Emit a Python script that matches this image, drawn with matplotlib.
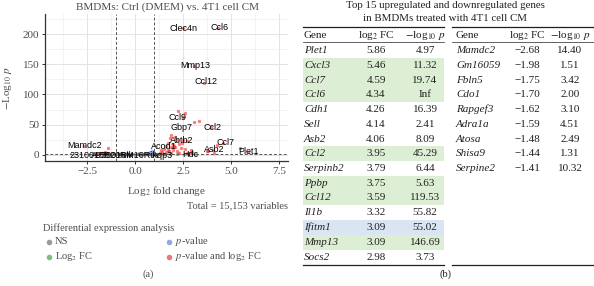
import matplotlib
matplotlib.use("Agg")
import matplotlib.pyplot as plt
from matplotlib.patches import Rectangle
from matplotlib.lines import Line2D

plt.rcParams['mathtext.fontset'] = 'stix'

ns_x = [-0.9, -0.75, -0.6, -0.45, -0.3, -0.15, 0.0, 0.15, 0.3, 0.45, 0.6, 0.75, 0.9,
        -0.8, -0.5, -0.2, 0.1, 0.4, 0.7, -0.65, -0.35, 0.25, 0.55, 0.85]
ns_y = [0.3, 0.5, 0.2, 0.6, 0.1, 0.4, 0.2, 0.5, 0.3, 0.7, 0.4, 0.9, 0.6,
        1.0, 0.8, 1.1, 0.9, 1.0, 1.2, 0.1, 0.3, 0.2, 0.8, 0.4]
pval_x = [-0.7, -0.4, 0.2, 0.5, 0.7, 0.8, 0.95, 0.6, 0.9]
pval_y = [2.0, 1.8, 2.4, 3.0, 2.2, 4.1, 3.4, 1.7, 6.0]
fc_x = [-2.1, -1.9, -1.6, -1.3, -1.1, 1.1, 1.3, 1.5, 1.8, 2.2, 2.6, 3.1]
fc_y = [0.4, 0.8, 0.3, 1.0, 0.6, 0.7, 1.1, 0.5, 0.9, 0.3, 0.6, 0.8]
both_x = [5.86, 5.46, 4.59, 4.34, 4.26, 4.14, 4.06, 3.95, 3.79, 3.75, 3.59, 3.32, 3.09, 3.09, 2.98,
          -2.68, -1.98, -1.75, -1.70, -1.62, -1.59, -1.48, -1.44, -1.41, 2.52,
          2.26, 2.60, 2.48, 1.90, 2.10, 1.80, 2.20, 2.50, 2.70, 1.70, 2.00, 2.30, 1.60, 1.85,
          2.10, 2.40, 1.50, 1.70, 2.00, 2.20, 2.60, 2.90, 1.40, 1.60, 1.90, 2.30, 2.70, 1.30,
          1.50, 1.20, 2.86, 1.35, 1.75, 2.05, 2.45]
both_y = [4.97, 11.32, 19.74, 210.0, 16.39, 2.41, 8.09, 45.29, 6.44, 5.63, 119.53, 55.82, 55.02, 146.69, 3.73,
          14.40, 1.51, 3.42, 2.00, 3.10, 4.51, 2.49, 1.31, 10.32, 210.0,
          73.0, 69.0, 63.0, 33.0, 30.0, 27.0, 25.0, 24.0, 22.0, 20.0, 18.0, 17.0, 15.0, 13.0,
          12.0, 11.0, 10.0, 8.0, 7.0, 6.0, 9.0, 7.0, 5.0, 4.0, 3.0, 3.0, 3.0, 2.0,
          1.8, 1.6, 3.0, 8.0, 5.5, 14.0, 19.0]

label_names = ["Clec4n", "Ccl6", "Mmp13", "Ccl12", "Ccl9", "Gbp7", "Ccl2", "Abtb2",
               "Ccl7", "Acod1", "Asb2", "Hdc", "Plet1", "Mamdc2", "2310015B20Rik",
               "A930016M16Rik", "Aqp3"]
label_xy = [(2.5, 210), (4.43, 211), (3.15, 148), (3.68, 121), (2.2, 61), (2.43, 45.5),
            (4.04, 45), (2.43, 23), (4.7, 20.6), (1.5, 12.8), (4.13, 8.3), (2.86, 0.7),
            (5.9, 4.5), (-2.62, 15), (-1.75, -1), (-0.55, -1), (1.45, -1)]

# ---- table data ----
up_genes = ["Plet1", "Cxcl3", "Ccl7", "Ccl6", "Cdh1", "Sell", "Asb2", "Ccl2", "Serpinb2",
            "Ppbp", "Ccl12", "Il1b", "Ifitm1", "Mmp13", "Socs2"]
up_fc = ["5.86", "5.46", "4.59", "4.34", "4.26", "4.14", "4.06", "3.95", "3.79",
         "3.75", "3.59", "3.32", "3.09", "3.09", "2.98"]
up_p = ["4.97", "11.32", "19.74", "Inf", "16.39", "2.41", "8.09", "45.29", "6.44",
        "5.63", "119.53", "55.82", "55.02", "146.69", "3.73"]
up_mark = ["", "g", "g", "g", "", "", "", "g", "", "g", "g", "", "b", "g", ""]
down_genes = ["Mamdc2", "Gm16059", "Fbln5", "Cdo1", "Rapgef3", "Adra1a", "Atosa",
              "Shisa9", "Serpine2"]
down_fc = ["\u22122.68", "\u22121.98", "\u22121.75", "\u22121.70", "\u22121.62",
           "\u22121.59", "\u22121.48", "\u22121.44", "\u22121.41"]
down_p = ["14.40", "1.51", "3.42", "2.00", "3.10", "4.51", "2.49", "1.31", "10.32"]

W, H = 594, 286
def fx(px):
    return px / W
def fy(py):
    return 1 - py / H

serif = "Liberation Serif"
sans = "Liberation Sans"
txt = "#231f20"
gray = "#4d4d4d"

fig = plt.figure(figsize=(W / 100, H / 100), dpi=100)

# ---------- (a) volcano ----------
ax = fig.add_axes([fx(45), fy(161), fx(288) - fx(45), fy(14) - fy(161)])
ax.set_xlim(-4.69, 7.97)
ax.set_ylim(-10.5, 233.7)
ax.set_xticks([-2.5, 0, 2.5, 5, 7.5])
ax.set_xticks([-3.75, -1.25, 1.25, 3.75, 6.25], minor=True)
ax.set_yticks([0, 50, 100, 150, 200])
ax.set_yticks([25, 75, 125, 175, 225], minor=True)
ax.grid(which="major", color="#e3e3e3", lw=0.7)
ax.grid(which="minor", color="#efefef", lw=0.5)
ax.set_axisbelow(True)
for s in ["top", "right"]:
    ax.spines[s].set_visible(False)
for s in ["left", "bottom"]:
    ax.spines[s].set_color("#333333")
    ax.spines[s].set_linewidth(0.9)
ax.tick_params(which="major", length=2.5, width=0.7, color="#333333", labelsize=8,
               labelcolor=gray, pad=1.5)
ax.tick_params(which="minor", length=0)
for lab in ax.get_xticklabels() + ax.get_yticklabels():
    lab.set_family(serif)

ax.axvline(-1, color="#555555", ls=(0, (3, 2)), lw=0.7)
ax.axvline(1, color="#555555", ls=(0, (3, 2)), lw=0.7)
ax.axhline(1.3, color="#555555", ls=(0, (3, 2)), lw=0.7)

ax.scatter(ns_x, ns_y, s=6, color="#4d4d4d", alpha=0.5, lw=0)
ax.scatter(pval_x, pval_y, s=6, color="royalblue", alpha=0.5, lw=0)
ax.scatter(fc_x, fc_y, s=6, color="forestgreen", alpha=0.5, lw=0)
ax.scatter(both_x, both_y, s=6, color="#ee0000", alpha=0.5, lw=0)

for name, (lx, ly) in zip(label_names, label_xy):
    ax.text(lx, ly, name, family=sans, fontsize=6.5, ha="center", va="center", color="black")

fig.text(fx(167), fy(7), "BMDMs: Ctrl (DMEM) vs. 4T1 cell CM", family=serif, fontsize=8,
         color=gray, ha="center", va="center")
fig.text(fx(8), fy(88), r"$-$Log$_{10}$ $p$", family=serif, fontsize=8, color=gray,
         rotation=90, ha="center", va="center")
fig.text(fx(167), fy(191), r"Log$_2$ fold change", family=serif, fontsize=8, color=gray,
         ha="center", va="center")
fig.text(fx(288), fy(206), "Total = 15,153 variables", family=serif, fontsize=7.5, color=gray,
         ha="right", va="center")

# legend
fig.text(fx(43), fy(228), "Differential expression analysis", family=serif, fontsize=7.5,
         color=gray, ha="left", va="center")
leg = [(49, 241.5, "#9a9a9a", "NS"),
       (169, 241.5, "#95a8e0", r"$p$-value"),
       (49, 256.5, "#7fbf7f", r"Log$_2$ FC"),
       (169, 256.5, "#ef7777", r"$p$-value and log$_2$ FC")]
for px, py, c, t in leg:
    fig.add_artist(Line2D([fx(px)], [fy(py)], marker="o", ms=3, color=c, lw=0))
    fig.text(fx(px + 6), fy(py), t, family=serif, fontsize=7.5, color=gray,
             ha="left", va="center")
fig.text(fx(148), fy(274), "(a)", family=serif, fontsize=7.5, color=gray,
         ha="center", va="center")

# ---------- (b) table ----------
fig.text(fx(445), fy(5.5), "Top 15 upregulated and downregulated genes", family=serif,
         fontsize=7.8, color=txt, ha="center", va="center")
fig.text(fx(445), fy(18.5), "in BMDMs treated with 4T1 cell CM", family=serif,
         fontsize=7.8, color=txt, ha="center", va="center")

row0, step = 50.5, 14.75
colors = {"g": "#dcefd4", "b": "#d9e5f3"}
for i, m in enumerate(up_mark):
    if m:
        yc = row0 + i * step
        fig.add_artist(Rectangle((fx(303), fy(yc + step / 2)), fx(444) - fx(303),
                                 step / H, color=colors[m], lw=0, zorder=0))

def rule(x0, x1, py, lw):
    fig.add_artist(Line2D([fx(x0), fx(x1)], [fy(py), fy(py)], color=txt, lw=lw))

for x0, x1 in [(303, 444), (452, 594)]:
    rule(x0, x1, 27, 0.9)
    rule(x0, x1, 42.5, 0.5)
    rule(x0, x1, 265, 0.9)

def table(xg, xf, xp, genes, fcs, ps):
    fig.text(fx(xg), fy(35), "Gene", family=serif, fontsize=8, color=txt, ha="left", va="center")
    fig.text(fx(xf), fy(35), r"log$_2$ FC", family=serif, fontsize=8, color=txt,
             ha="center", va="center")
    fig.text(fx(xp), fy(35), r"$-$log$_{10}$ $p$", family=serif, fontsize=8, color=txt,
             ha="center", va="center")
    for i, (g, f, p) in enumerate(zip(genes, fcs, ps)):
        yc = row0 + i * step
        fig.text(fx(xg), fy(yc), g, family=serif, style="italic", fontsize=8, color=txt,
                 ha="left", va="center")
        fig.text(fx(xf), fy(yc), f, family=serif, fontsize=8, color=txt, ha="center", va="center")
        fig.text(fx(xp), fy(yc), p, family=serif, fontsize=8, color=txt, ha="center", va="center")

table(304, 376, 425, up_genes, up_fc, up_p)
table(456, 527, 570, down_genes, down_fc, down_p)

fig.text(fx(445), fy(274), "(b)", family=serif, fontsize=7.5, color=txt,
         ha="center", va="center")

fig.savefig("out.png", dpi=100)
